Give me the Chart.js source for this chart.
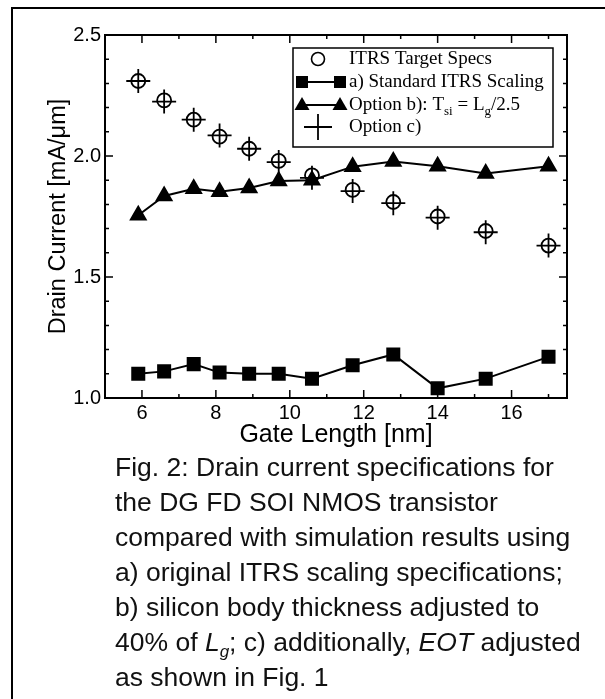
<!DOCTYPE html>
<html>
<head>
<meta charset="utf-8">
<script src="https://cdn.jsdelivr.net/npm/chart.js@4.4.1/dist/chart.umd.min.js"></script>
<style>
  html, body { margin: 0; padding: 0; background: #fff; overflow: hidden; }
  body { width: 605px; height: 699px; position: relative; }
  #frame {
    position: absolute; left: 11px; top: 7px; width: 640px; height: 740px;
    border-left: 2px solid #000; border-top: 2px solid #000;
  }
  #chart { position: absolute; left: 0; top: 0; }
  .caption {
    position: absolute; left: 115px; top: 450px;
    font-family: "Liberation Sans", Arial, sans-serif;
    font-size: 26.5px; line-height: 35px; color: #111;
    white-space: nowrap;
  }
  .caption sub { font-size: 17px; line-height: 0; }
</style>
</head>
<body>
<div id="frame"></div>
<canvas id="chart" width="605" height="452"></canvas>
<div class="caption">Fig. 2: Drain current specifications for<br>the DG FD SOI NMOS transistor<br>compared with simulation results using<br>a) original ITRS scaling specifications;<br>b) silicon body thickness adjusted to<br>40% of <i>L<sub>g</sub></i>; c) additionally, <i>EOT</i> adjusted<br>as shown in Fig. 1</div>
<script>
// gate length [nm] for every point
const gateLength = [5.9, 6.6, 7.4, 8.1, 8.9, 9.7, 10.6, 11.7, 12.8, 14.0, 15.3, 17.0];
// drain current [mA/um]
const itrsTarget = [2.31, 2.23, 2.15, 2.08, 2.03, 1.98, 1.92, 1.86, 1.81, 1.75, 1.69, 1.63];
const standardScaling = [1.10, 1.11, 1.14, 1.105, 1.10, 1.10, 1.08, 1.135, 1.18, 1.04, 1.08, 1.17];
const optionB = [1.755, 1.835, 1.865, 1.852, 1.868, 1.897, 1.90, 1.956, 1.977, 1.958, 1.928, 1.958];
const optionC = [2.31, 2.225, 2.15, 2.085, 2.03, 1.975, 1.91, 1.855, 1.805, 1.745, 1.685, 1.63];

const xTicks = [6, 8, 10, 12, 14, 16];
const yTicks = [1.0, 1.5, 2.0, 2.5];

function pts(ys) {
    return gateLength.map(function(x, i) { return { x: x, y: ys[i] }; });
}

Chart.defaults.font.family = '"Liberation Sans", Arial, sans-serif';
Chart.defaults.color = '#000';

// frame, inward tick marks and the boxed legend
const framePlugin = {
    id: 'framePlugin',
    afterDraw: function(chart) {
        const ctx = chart.ctx;
        const a = chart.chartArea;
        const xs = chart.scales.x;
        const ys = chart.scales.y;
        ctx.save();
        ctx.strokeStyle = '#000';
        ctx.lineWidth = 1.5;

        // minor / major ticks
        ctx.beginPath();
        for (let v = 5; v <= 17; v++) {
            const px = xs.getPixelForValue(v);
            const len = v % 2 === 0 ? 8 : 4;
            ctx.moveTo(px, a.bottom); ctx.lineTo(px, a.bottom - len);
            ctx.moveTo(px, a.top); ctx.lineTo(px, a.top + len);
        }
        for (let k = 10; k <= 25; k++) {
            const py = ys.getPixelForValue(k / 10);
            const len = k % 5 === 0 ? 8 : 4;
            ctx.moveTo(a.left, py); ctx.lineTo(a.left + len, py);
            ctx.moveTo(a.right, py); ctx.lineTo(a.right - len, py);
        }
        ctx.stroke();

        ctx.lineWidth = 2;
        ctx.strokeRect(a.left, a.top, a.right - a.left, a.bottom - a.top);

        // legend
        const lx = a.left + 188, ly = a.top + 13, lw = 260, lh = 99;
        ctx.fillStyle = '#fff';
        ctx.fillRect(lx, ly, lw, lh);
        ctx.lineWidth = 1.5;
        ctx.strokeRect(lx, ly, lw, lh);

        const rows = [ly + 11, ly + 34, ly + 57, ly + 79];
        const sx = lx + 25, tx = lx + 56;
        ctx.fillStyle = '#000';
        ctx.lineWidth = 1.6;
        // circle
        ctx.beginPath();
        ctx.arc(sx, rows[0], 6.5, 0, Math.PI * 2);
        ctx.stroke();
        // square - line - square
        ctx.lineWidth = 2;
        ctx.beginPath();
        ctx.moveTo(lx + 9, rows[1]); ctx.lineTo(lx + 47, rows[1]);
        ctx.stroke();
        ctx.fillRect(lx + 3, rows[1] - 6, 12, 12);
        ctx.fillRect(lx + 41, rows[1] - 6, 12, 12);
        // triangle - line - triangle
        ctx.beginPath();
        ctx.moveTo(lx + 9, rows[2]); ctx.lineTo(lx + 47, rows[2]);
        ctx.stroke();
        [lx + 9, lx + 47].forEach(function(cx) {
            ctx.beginPath();
            ctx.moveTo(cx, rows[2] - 8);
            ctx.lineTo(cx + 7.5, rows[2] + 5);
            ctx.lineTo(cx - 7.5, rows[2] + 5);
            ctx.closePath();
            ctx.fill();
        });
        // cross
        ctx.lineWidth = 1.8;
        ctx.beginPath();
        ctx.moveTo(sx - 14, rows[3]); ctx.lineTo(sx + 14, rows[3]);
        ctx.moveTo(sx, rows[3] - 13); ctx.lineTo(sx, rows[3] + 13);
        ctx.stroke();

        // texts
        const serif = '"Liberation Serif", "Times New Roman", serif';
        ctx.textBaseline = 'middle';
        ctx.textAlign = 'left';
        ctx.font = '19px ' + serif;
        ctx.fillText('ITRS Target Specs', tx, rows[0]);
        ctx.fillText('a) Standard ITRS Scaling', tx, rows[1]);
        ctx.fillText('Option c)', tx, rows[3]);
        // Option b): T_si = L_g/2.5
        let x = tx;
        const parts = [['Option b): T', 0], ['si', 1], [' = L', 0], ['g', 1], ['/2.5', 0]];
        parts.forEach(function(p) {
            ctx.font = (p[1] ? '13px ' : '19px ') + serif;
            ctx.fillText(p[0], x, rows[2] + (p[1] ? 7 : 0));
            x += ctx.measureText(p[0]).width;
        });
        ctx.restore();
    }
};

new Chart(document.getElementById('chart'), {
    type: 'scatter',
    data: {
        datasets: [{
            label: 'ITRS Target Specs',
            data: pts(itrsTarget),
            pointStyle: 'circle',
            pointRadius: 7,
            pointBackgroundColor: 'rgba(0,0,0,0)',
            pointBorderColor: '#000',
            pointBorderWidth: 1.8,
            showLine: false
        }, {
            label: 'a) Standard ITRS Scaling',
            data: pts(standardScaling),
            pointStyle: 'rect',
            pointRadius: 8.5,
            pointBackgroundColor: '#000',
            pointBorderColor: '#000',
            borderColor: '#000',
            borderWidth: 2,
            showLine: true
        }, {
            label: 'Option b)',
            data: pts(optionB),
            pointStyle: 'triangle',
            pointRadius: 8.5,
            pointBackgroundColor: '#000',
            pointBorderColor: '#000',
            borderColor: '#000',
            borderWidth: 2,
            showLine: true
        }, {
            label: 'Option c)',
            data: pts(optionC),
            pointStyle: 'cross',
            pointRadius: 12,
            pointBorderColor: '#000',
            pointBorderWidth: 1.8,
            showLine: false
        }]
    },
    options: {
        responsive: false,
        animation: false,
        devicePixelRatio: 1,
        layout: { padding: { top: 35, right: 38, left: 0, bottom: 0 } },
        scales: {
            x: {
                type: 'linear',
                min: 5,
                max: 17.5,
                afterBuildTicks: function(scale) {
                    scale.ticks = xTicks.map(function(v) { return { value: v }; });
                },
                afterFit: function(scale) { scale.height = 452 - 398; },
                grid: { display: false, drawTicks: false },
                border: { display: false },
                ticks: { font: { size: 20 }, padding: 3, maxRotation: 0, autoSkip: false },
                title: { display: true, text: 'Gate Length [nm]', font: { size: 25 }, padding: { top: 0, bottom: 2 } }
            },
            y: {
                min: 1.0,
                max: 2.5,
                afterBuildTicks: function(scale) {
                    scale.ticks = yTicks.map(function(v) { return { value: v }; });
                },
                afterFit: function(scale) { scale.width = 105; },
                grid: { display: false, drawTicks: false },
                border: { display: false },
                ticks: {
                    font: { size: 20 }, padding: 4,
                    callback: function(v) { return Number(v).toFixed(1); }
                },
                title: { display: true, text: 'Drain Current [mA/\u03bcm]', font: { size: 23.5 }, padding: { top: 44, bottom: 0 } }
            }
        },
        plugins: {
            legend: { display: false },
            tooltip: { enabled: false }
        }
    },
    plugins: [framePlugin]
});
</script>
</body>
</html>
